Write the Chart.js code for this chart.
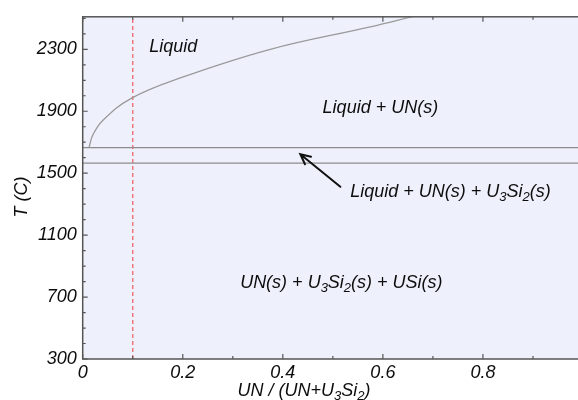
<!DOCTYPE html>
<html>
<head>
<meta charset="utf-8">
<script src="https://cdn.jsdelivr.net/npm/chart.js@4.4.1/dist/chart.umd.min.js"></script>
<style>
  html, body { margin: 0; padding: 0; background: #fff; overflow: hidden; }
  #wrap { position: absolute; left: 0; top: 0; width: 600px; height: 400px; }
</style>
</head>
<body>
<div id="wrap"><canvas id="phase" width="600" height="400"></canvas></div>
<script>
// --- dados do diagrama ---
const xMin = 0, xMax = 1;
const yMin = 300, yMax = 2510;
const xTicks = [0, 0.1, 0.2, 0.3, 0.4, 0.5, 0.6, 0.7, 0.8, 0.9, 1];
const xTickLabels = { 0: '0', 0.2: '0.2', 0.4: '0.4', 0.6: '0.6', 0.8: '0.8', 1: '1' };
const yTicks = [300, 400, 500, 600, 700, 800, 900, 1000, 1100, 1200, 1300, 1400,
                1500, 1600, 1700, 1800, 1900, 2000, 2100, 2200, 2300, 2400, 2500];
const yTickLabels = [300, 700, 1100, 1500, 1900, 2300];

// linha liquidus (fração UN, T em C)
const liquidusX = [0.0126, 0.02, 0.04, 0.096, 0.195, 0.375, 0.575, 0.66];
const liquidusT = [1665, 1745, 1840, 1982, 2115, 2300, 2445, 2512];
// patamares horizontais
const upperT = 1665;
const lowerT = 1565;
// composição marcada (tracejado vermelho)
const markedX = 0.1;

// rótulos das regiões: partes [texto, subscrito?]
const regionLabels = [
  { x: 0.181, y: 2317, parts: [['Liquid', 0]] },
  { x: 0.595, y: 1922, parts: [['Liquid + UN(s)', 0]] },
  { x: 0.735, y: 1380, parts: [['Liquid + UN(s) + U', 0], ['3', 1], ['Si', 0], ['2', 1], ['(s)', 0]] },
  { x: 0.517, y: 793, parts: [['UN(s) + U', 0], ['3', 1], ['Si', 0], ['2', 1], ['(s) + USi(s)', 0]] }
];
const arrowFrom = { x: 0.515, y: 1412 };
const arrowTo = { x: 0.435, y: 1622 };

const FONT = '"Liberation Sans", Arial, sans-serif';
const TXT = '#0d0d0d';

function pts(xs, ys) { return xs.map((x, i) => ({ x: x, y: ys[i] })); }

function drawRich(ctx, parts, cx, cy, size) {
  const sub = Math.round(size * 0.7);
  let w = 0;
  parts.forEach(p => {
    ctx.font = 'italic ' + (p[1] ? sub : size) + 'px ' + FONT;
    w += ctx.measureText(p[0]).width;
  });
  let x = cx - w / 2;
  ctx.textBaseline = 'middle';
  ctx.textAlign = 'left';
  parts.forEach(p => {
    ctx.font = 'italic ' + (p[1] ? sub : size) + 'px ' + FONT;
    ctx.fillText(p[0], x, cy + (p[1] ? size * 0.3 : 0));
    x += ctx.measureText(p[0]).width;
  });
}

const framePlugin = {
  id: 'frame',
  beforeDatasetsDraw(chart) {
    const { ctx, chartArea: a } = chart;
    ctx.save();
    ctx.fillStyle = '#eef1fc';
    ctx.fillRect(a.left, a.top, a.right - a.left, a.bottom - a.top);
    ctx.restore();
  },
  afterDatasetsDraw(chart) {
    const { ctx, chartArea: a, scales } = chart;
    ctx.save();
    // moldura
    ctx.strokeStyle = '#555';
    ctx.lineWidth = 1.5;
    ctx.strokeRect(a.left, a.top, a.right - a.left, a.bottom - a.top);
    // marcas para dentro, nos quatro lados
    ctx.lineWidth = 1.2;
    ctx.beginPath();
    xTicks.forEach(v => {
      const px = scales.x.getPixelForValue(v);
      const len = (v in xTickLabels) ? 5 : 3;
      ctx.moveTo(px, a.bottom); ctx.lineTo(px, a.bottom - len);
      ctx.moveTo(px, a.top); ctx.lineTo(px, a.top + len);
    });
    yTicks.forEach(v => {
      const py = scales.y.getPixelForValue(v);
      const len = yTickLabels.includes(v) ? 5 : 3;
      ctx.moveTo(a.left, py); ctx.lineTo(a.left + len, py);
      ctx.moveTo(a.right, py); ctx.lineTo(a.right - len, py);
    });
    ctx.stroke();

    // rótulos das regiões
    ctx.fillStyle = TXT;
    regionLabels.forEach(l => {
      drawRich(ctx, l.parts, scales.x.getPixelForValue(l.x), scales.y.getPixelForValue(l.y), 18);
    });

    // seta
    const x0 = scales.x.getPixelForValue(arrowFrom.x), y0 = scales.y.getPixelForValue(arrowFrom.y);
    const x1 = scales.x.getPixelForValue(arrowTo.x), y1 = scales.y.getPixelForValue(arrowTo.y);
    const ang = Math.atan2(y1 - y0, x1 - x0);
    ctx.strokeStyle = '#111';
    ctx.lineWidth = 2;
    ctx.lineCap = 'round';
    ctx.beginPath();
    ctx.moveTo(x0, y0); ctx.lineTo(x1, y1);
    ctx.moveTo(x1 - 11 * Math.cos(ang - 0.45), y1 - 11 * Math.sin(ang - 0.45));
    ctx.lineTo(x1, y1);
    ctx.lineTo(x1 - 11 * Math.cos(ang + 0.45), y1 - 11 * Math.sin(ang + 0.45));
    ctx.stroke();

    // títulos dos eixos
    ctx.fillStyle = TXT;
    drawRich(ctx, [['UN / (UN+U', 0], ['3', 1], ['Si', 0], ['2', 1], [')', 0]], 304, 391, 18);
    ctx.translate(22, 197);
    ctx.rotate(-Math.PI / 2);
    drawRich(ctx, [['T (C)', 0]], 0, 0, 18);
    ctx.restore();
  }
};

new Chart(document.getElementById('phase'), {
  type: 'scatter',
  data: {
    datasets: [
      {
        data: pts(liquidusX, liquidusT), showLine: true, borderColor: '#9a9a9a', borderWidth: 1.3,
        pointRadius: 0, tension: 0.4
      },
      {
        data: pts([xMin, xMax], [upperT, upperT]), showLine: true, borderColor: '#8c8c8c',
        borderWidth: 1.3, pointRadius: 0
      },
      {
        data: pts([xMin, xMax], [lowerT, lowerT]), showLine: true, borderColor: '#8c8c8c',
        borderWidth: 1.3, pointRadius: 0
      },
      {
        data: pts([markedX, markedX], [yMin, yMax]), showLine: true, borderColor: '#f3737d',
        borderWidth: 1.5, borderDash: [4, 3], pointRadius: 0
      }
    ]
  },
  options: {
    responsive: false,
    animation: false,
    layout: { padding: { top: 13, right: 17, left: 0, bottom: 0 } },
    plugins: { legend: { display: false }, tooltip: { enabled: false } },
    scales: {
      x: {
        type: 'linear', min: xMin, max: xMax,
        afterBuildTicks: s => { s.ticks = xTicks.map(v => ({ value: v })); },
        afterFit: s => { s.height = 41; },
        grid: { display: false, drawTicks: false },
        border: { display: false },
        ticks: {
          autoSkip: false, maxRotation: 0, padding: 3, color: TXT,
          font: { family: FONT, size: 18, style: 'italic' },
          callback: v => (v in xTickLabels) ? xTickLabels[v] : ''
        }
      },
      y: {
        type: 'linear', min: yMin, max: yMax,
        afterBuildTicks: s => { s.ticks = yTicks.map(v => ({ value: v })); },
        afterFit: s => { s.width = 82.7; },
        grid: { display: false, drawTicks: false },
        border: { display: false },
        ticks: {
          autoSkip: false, padding: 6, color: TXT,
          font: { family: FONT, size: 18, style: 'italic' },
          callback: v => yTickLabels.includes(v) ? String(v) : ''
        }
      }
    }
  },
  plugins: [framePlugin]
});
</script>
</body>
</html>
